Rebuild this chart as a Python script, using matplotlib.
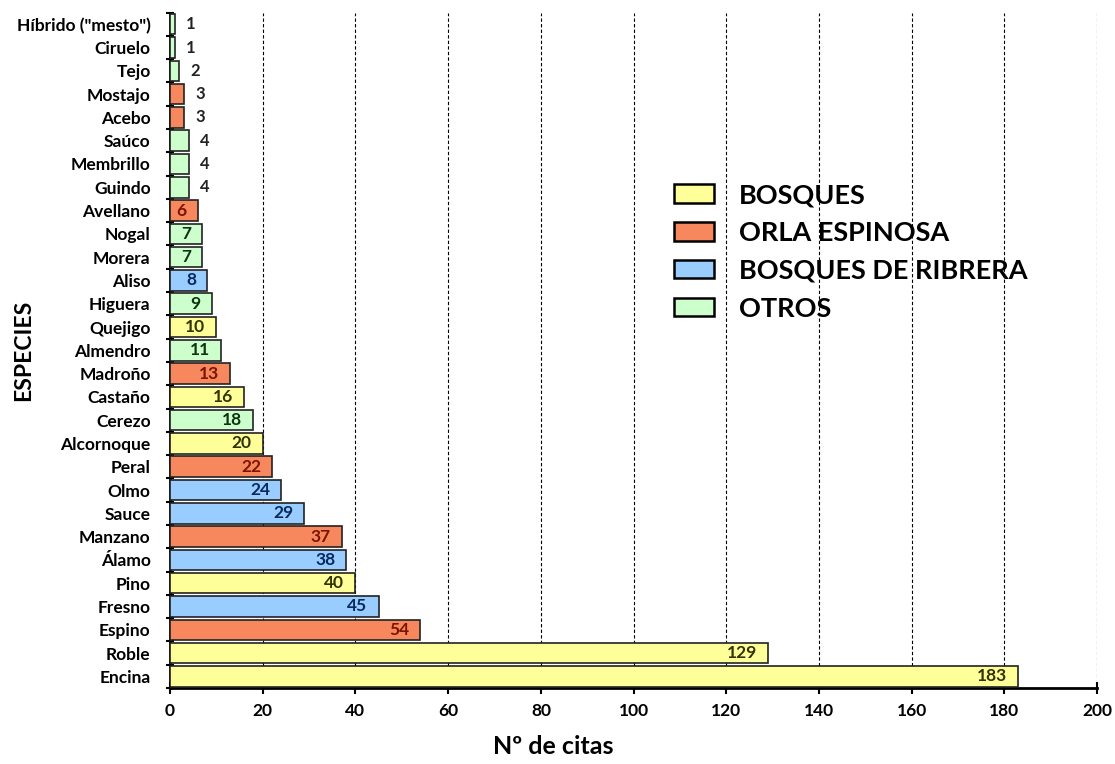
import numpy as np
import matplotlib.pyplot as plt
from matplotlib.patches import Patch
from matplotlib.ticker import MultipleLocator

plt.rcParams['font.family'] = ['Lato', 'DejaVu Sans']
plt.rcParams['font.weight'] = 'bold'

# datos (de abajo a arriba)
especies = ["Encina", "Roble", "Espino", "Fresno", "Pino", "Álamo", "Manzano",
            "Sauce", "Olmo", "Peral", "Alcornoque", "Cerezo", "Castaño",
            "Madroño", "Almendro", "Quejigo", "Higuera", "Aliso", "Morera",
            "Nogal", "Avellano", "Guindo", "Membrillo", "Saúco", "Acebo",
            "Mostajo", "Tejo", "Ciruelo", 'Híbrido ("mesto")']
citas = [183, 129, 54, 45, 40, 38, 37, 29, 24, 22, 20, 18, 16, 13, 11, 10, 9,
         8, 7, 7, 6, 4, 4, 4, 3, 3, 2, 1, 1]
grupo = ["B", "B", "O", "R", "B", "R", "O", "R", "R", "O", "B", "T", "B", "O",
         "T", "B", "T", "R", "T", "T", "O", "T", "T", "T", "O", "O", "T", "T", "T"]

grupos = ["B", "O", "R", "T"]
nombres = ["BOSQUES", "ORLA ESPINOSA", "BOSQUES DE RIBRERA", "OTROS"]
relleno = {"B": "#FFFF99", "O": "#F7875C", "R": "#99CCFF", "T": "#CCFFCC"}
texto = {"B": "#333300", "O": "#7A1500", "R": "#0A2A5C", "T": "#0D3311"}

fig = plt.figure(figsize=(11.15, 7.64), dpi=100)
ax = fig.add_axes([0.1525, 0.0995, 0.8315, 0.884])

y = np.arange(len(especies))
colores = [relleno[g] for g in grupo]
bars = ax.barh(y, citas, height=0.88, color=colores, edgecolor="#222222",
               linewidth=1.2, zorder=3)

for b, v, g in zip(bars, citas, grupo):
    yc = b.get_y() + b.get_height() / 2
    if v >= 6:
        ax.annotate(str(v), (v, yc), xytext=(-8, 0), textcoords="offset points",
                    ha="right", va="center", fontsize=12.5, color=texto[g],
                    fontweight="bold", zorder=4)
    else:
        ax.annotate(str(v), (v, yc), xytext=(8, 0), textcoords="offset points",
                    ha="left", va="center", fontsize=12, color="#222222",
                    fontweight="bold", zorder=4)

ax.set_xlim(0, 200)
ax.set_ylim(-0.5, len(especies) - 0.5)
ax.xaxis.set_major_locator(MultipleLocator(20))
ax.set_yticks(y)
ax.set_yticklabels(especies, fontsize=12.5, fontweight="bold")
ax.set_yticks(np.arange(-0.5, len(especies), 1), minor=True)
ax.tick_params(axis="y", which="major", length=0, pad=14)
ax.tick_params(axis="y", which="minor", length=6, width=1.5, direction="inout")
ax.tick_params(axis="x", length=8, width=1.5, direction="inout", labelsize=12.5, pad=7)
for t in ax.get_xticklabels():
    t.set_fontweight("bold")

ax.grid(axis="x", linestyle=(0, (3, 2)), color="black", linewidth=0.8, zorder=0)
for s in ["top", "right"]:
    ax.spines[s].set_visible(False)
for s in ["left", "bottom"]:
    ax.spines[s].set_linewidth(2)

ax.set_xlabel("Nº de citas", fontsize=18, fontweight="bold")
ax.xaxis.set_label_coords(0.413, -0.07)
ax.set_ylabel("ESPECIES", fontsize=16.5, fontweight="bold")
ax.yaxis.set_label_coords(-0.147, 0.5)

handles = [Patch(facecolor=relleno[g], edgecolor="black", linewidth=1.8) for g in grupos]
fig.legend(handles, nombres, loc="upper left", bbox_to_anchor=(0.592, 0.778),
           frameon=False, prop={"size": 19.5, "weight": "bold"}, borderpad=0,
           handlelength=1.5, handleheight=0.67, labelspacing=0.51,
           handletextpad=0.9)

fig.savefig("out.png", dpi=100)
